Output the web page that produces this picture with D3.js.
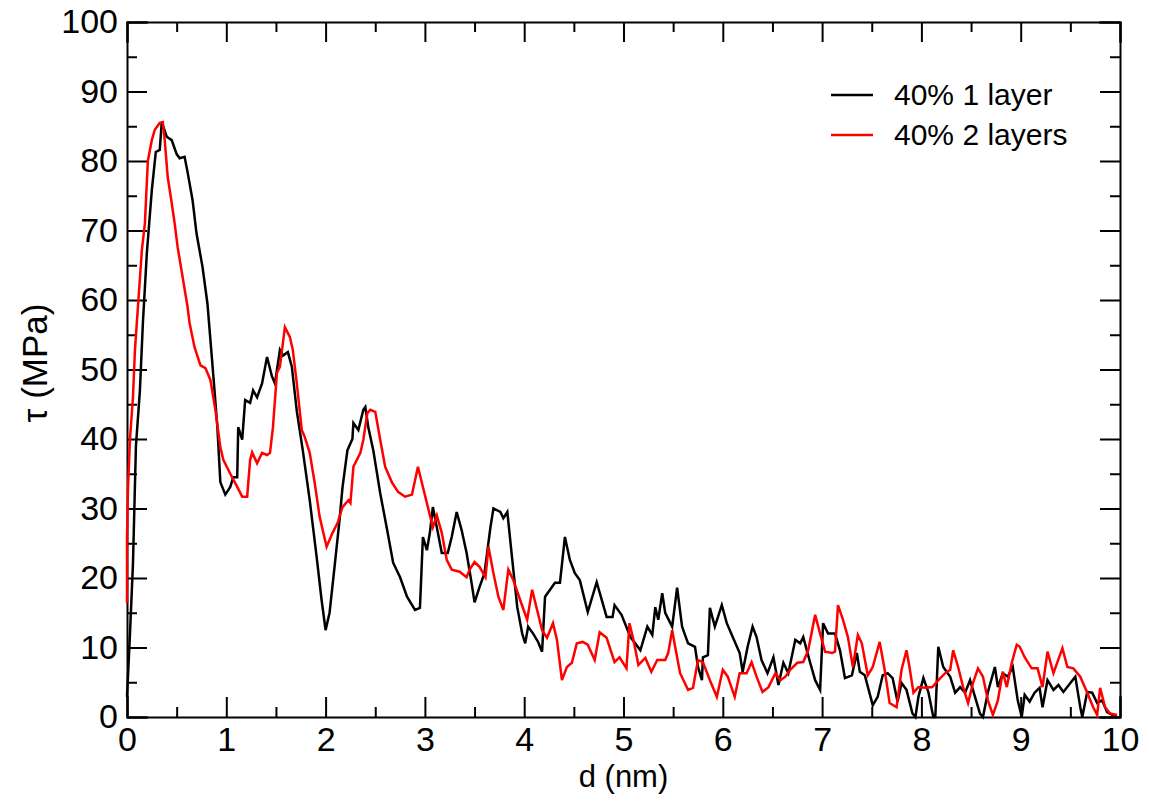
<!DOCTYPE html>
<html>
<head>
<meta charset="utf-8">
<script src="https://cdn.jsdelivr.net/npm/d3@7"></script>
<style>
  body { margin: 0; background: #fff; }
  svg text { font-family: "Liberation Sans", Arial, Helvetica, sans-serif; fill: #000; }
  .axis path, .axis line { stroke: #000; stroke-width: 2; }
</style>
</head>
<body>
<svg id="chart" width="1149" height="802"></svg>
<script>
// Series: d (nm) and tau (MPa)
var oneLayerD = [0.00,0.03,0.06,0.09,0.13,0.16,0.20,0.25,0.29,0.33,0.35,0.40,0.45,0.50,0.53,0.58,0.61,0.66,0.70,0.76,0.81,0.87,0.91,0.94,0.99,1.04,1.07,1.11,1.12,1.16,1.19,1.24,1.27,1.31,1.36,1.41,1.46,1.49,1.54,1.57,1.62,1.66,1.71,1.77,1.84,1.91,1.96,2.00,2.04,2.09,2.14,2.17,2.22,2.27,2.28,2.33,2.38,2.40,2.43,2.48,2.55,2.62,2.68,2.75,2.82,2.90,2.95,2.98,3.02,3.05,3.08,3.12,3.17,3.23,3.27,3.32,3.37,3.42,3.47,3.50,3.55,3.60,3.66,3.69,3.76,3.79,3.83,3.88,3.93,3.98,4.01,4.04,4.09,4.14,4.18,4.21,4.26,4.31,4.36,4.41,4.46,4.51,4.56,4.64,4.73,4.83,4.89,4.91,4.98,5.07,5.17,5.24,5.29,5.32,5.35,5.39,5.42,5.49,5.54,5.59,5.65,5.72,5.75,5.79,5.80,5.85,5.87,5.92,5.99,6.04,6.10,6.17,6.20,6.25,6.30,6.34,6.39,6.45,6.51,6.56,6.61,6.66,6.73,6.78,6.81,6.88,6.93,6.98,7.01,7.06,7.13,7.18,7.23,7.30,7.35,7.38,7.43,7.51,7.56,7.61,7.66,7.71,7.76,7.80,7.85,7.91,7.94,7.97,8.02,8.07,8.12,8.14,8.17,8.22,8.29,8.34,8.39,8.44,8.49,8.54,8.59,8.62,8.67,8.74,8.77,8.82,8.87,8.92,8.97,9.01,9.04,9.09,9.14,9.19,9.22,9.27,9.33,9.38,9.43,9.50,9.55,9.60,9.62,9.67,9.72,9.77,9.82,9.87,9.92,9.97];
var oneLayerTau = [2.9,12,22,39,47,56.7,66.8,75.8,81.3,81.6,85.6,83.5,83,81,80.4,80.6,78.4,74.4,69.6,64.8,59.5,49,41.7,33.8,32,33.1,34.5,34.5,41.7,39.9,45.6,45.2,47,46,48,51.8,49,48,52.8,52,52.5,50.4,44,38.4,31.2,23,16.8,12.5,15,21.6,28.3,33,38.4,40,42.3,41.3,44.2,44.6,41.7,38.4,32.2,26.9,22.2,20.1,17.3,15.4,15.7,25.9,24,26.5,30.2,27.3,23.6,23.6,25.9,29.5,26.9,23.6,19.3,16.5,18.7,20.7,27.3,30,29.5,28.6,29.5,22.6,15.8,12,10.6,13,12,10.8,9.4,17.3,18.3,19.3,19.3,25.9,22.6,20.7,19.7,15.1,19.4,14.4,14.4,16.1,14.7,11.5,9.6,13,11.8,15.8,14,17.8,15,13,18.6,13,10.6,10.1,7.2,5.3,8.6,8.9,15.7,13,16.1,13.5,11.5,9.2,6.5,10.1,13,11.5,8.2,6.3,8.6,4.6,7.8,6.3,11.1,10.6,11.5,7.8,5.3,3.9,13.5,12,12,9.6,5.6,6,9.2,6.5,6,1.7,2.9,6,6.3,5.6,2.2,4.9,3.9,0.5,0,2.9,5.6,3.6,0,0,10.1,7.2,5.8,3.5,4.3,3.5,5.3,2.9,0.5,0,3.6,7.2,4.3,6.3,5.8,7.2,2.4,0,3.2,2.2,3.5,4.2,1.4,5.3,3.9,4.6,3.6,4.9,5.8,1.4,0,3.6,3.5,2,2.4,0.7,0.3,0];

var twoLayersD = [0.00,0.00,0.01,0.03,0.06,0.08,0.11,0.15,0.18,0.21,0.25,0.28,0.33,0.36,0.38,0.41,0.45,0.48,0.51,0.56,0.61,0.63,0.68,0.74,0.79,0.84,0.89,0.94,0.97,1.04,1.11,1.16,1.21,1.24,1.26,1.31,1.36,1.41,1.44,1.47,1.51,1.54,1.59,1.64,1.67,1.71,1.76,1.79,1.84,1.89,1.94,2.01,2.07,2.12,2.17,2.23,2.25,2.28,2.35,2.38,2.42,2.45,2.50,2.55,2.60,2.67,2.73,2.80,2.87,2.93,2.98,3.03,3.08,3.12,3.17,3.22,3.27,3.35,3.42,3.45,3.50,3.55,3.61,3.64,3.69,3.74,3.79,3.84,3.89,3.96,4.03,4.08,4.13,4.18,4.23,4.29,4.33,4.38,4.43,4.48,4.53,4.59,4.64,4.71,4.76,4.83,4.91,4.96,5.03,5.06,5.10,5.15,5.22,5.28,5.34,5.42,5.45,5.49,5.52,5.57,5.65,5.70,5.75,5.80,5.87,5.94,6.00,6.05,6.12,6.17,6.24,6.29,6.34,6.40,6.46,6.53,6.58,6.63,6.68,6.75,6.81,6.86,6.93,6.98,7.03,7.10,7.13,7.16,7.21,7.26,7.31,7.36,7.40,7.46,7.51,7.58,7.63,7.68,7.75,7.80,7.85,7.88,7.92,7.97,8.04,8.11,8.19,8.24,8.29,8.32,8.37,8.42,8.47,8.52,8.57,8.62,8.67,8.72,8.77,8.82,8.86,8.91,8.96,8.99,9.04,9.11,9.17,9.22,9.27,9.33,9.42,9.47,9.53,9.60,9.67,9.73,9.77,9.80,9.85,9.90,9.97];
var twoLayersTau = [16.4,25.5,33,40,46,52.8,59,67.2,71,80,83,84.5,85.5,85.6,83,77.7,74,71,67.6,63.3,59,56.7,53.2,50.6,50.2,48.5,44.2,38.8,37,35,33.1,31.7,31.7,37,38.1,36.5,38,37.7,38,41.7,49.5,50.4,56.1,54.7,52.8,48,41.3,40.3,38,33.7,28.8,24.5,26.5,27.9,30.2,31.2,30.8,36,38,39.9,43.7,44.2,43.9,39.9,36,33.7,32.4,31.7,32,36,33.1,30.2,27.3,29,26.5,22.6,21.2,20.9,20.1,21.2,22.3,21.6,20.1,24.5,20.7,17.3,15.4,21.2,19.7,16.8,14,18.3,15.4,12.5,11.4,13.5,11.1,5.3,7.2,7.8,10.6,10.8,10.4,8.2,12.2,11.4,7.9,8.6,7,13.5,11.1,7.5,8.5,6.5,8.2,8.2,9.2,12.5,10.1,6.3,3.9,4.2,8.2,7.9,5.3,2.9,6.8,5.8,2.9,6.3,6.3,7.9,5.8,3.6,4.3,6.3,5.3,5.8,6.8,7.8,7.9,9.6,14.7,12,9.4,9.2,9.4,16.1,14,11.5,7.2,11.8,10.6,6,7.2,10.8,6.8,2,1.4,6.8,9.6,7.2,3.5,4.3,4.2,4.3,5.6,6.3,6.8,9.6,7.2,4.3,2,4.9,7,5.8,2.4,0.3,2.4,6.5,4.3,7.8,10.4,10.1,8.6,7,7,4.3,9.4,6.3,9.9,7.2,7,5.8,3.5,1.4,0.3,4.2,1.4,0.5,0.3];

var seriesNames = ["40% 1 layer", "40% 2 layers"];
var seriesColors = ["#000000", "#ff0000"];
var xMajorTicks = [0, 1, 2, 3, 4, 5, 6, 7, 8, 9, 10];
var yMajorTicks = [0, 10, 20, 30, 40, 50, 60, 70, 80, 90, 100];

(function() {
  var svg = d3.select("#chart"),
      plotLeft = 127, plotRight = 1120, plotTop = 22, plotBottom = 717;

  var x = d3.scaleLinear().domain([0, 10]).range([plotLeft, plotRight]);
  var y = d3.scaleLinear().domain([0, 100]).range([plotBottom, plotTop]);

  // minor ticks half way between majors
  var xMinor = d3.range(0.5, 10, 1);
  var yMinor = d3.range(5, 100, 10);

  function addAxis(axis, tx, ty, keepDomain) {
    var g = svg.append("g")
        .attr("class", "axis")
        .attr("transform", "translate(" + tx + "," + ty + ")")
        .call(axis);
    g.selectAll("text").style("font-size", "34px").attr("fill", "#000");
    if (!keepDomain) g.select(".domain").remove();
    return g;
  }

  // bottom + left with labels, ticks pointing inward
  addAxis(d3.axisBottom(x).tickValues(xMajorTicks).tickSize(-20).tickPadding(10).tickFormat(d3.format("d")), 0, plotBottom, true);
  addAxis(d3.axisLeft(y).tickValues(yMajorTicks).tickSize(-20).tickPadding(9).tickFormat(d3.format("d")), plotLeft, 0, true);
  addAxis(d3.axisBottom(x).tickValues(xMinor).tickSize(-10).tickFormat(""), 0, plotBottom);
  addAxis(d3.axisLeft(y).tickValues(yMinor).tickSize(-10).tickFormat(""), plotLeft, 0);

  // top + right, ticks only
  addAxis(d3.axisTop(x).tickValues(xMajorTicks).tickSize(-20).tickFormat(""), 0, plotTop, true);
  addAxis(d3.axisRight(y).tickValues(yMajorTicks).tickSize(-20).tickFormat(""), plotRight, 0, true);
  addAxis(d3.axisTop(x).tickValues(xMinor).tickSize(-10).tickFormat(""), 0, plotTop);
  addAxis(d3.axisRight(y).tickValues(yMinor).tickSize(-10).tickFormat(""), plotRight, 0);

  svg.selectAll(".axis .domain").attr("stroke-linecap", "square");

  var line = d3.line()
      .x(function(d) { return x(d[0]); })
      .y(function(d) { return y(d[1]); });

  var series = [
    d3.zip(oneLayerD, oneLayerTau),
    d3.zip(twoLayersD, twoLayersTau)
  ];

  // red drawn on top of black
  svg.append("g").selectAll("path")
      .data(series)
    .enter().append("path")
      .attr("d", line)
      .attr("fill", "none")
      .attr("stroke", function(d, i) { return seriesColors[i]; })
      .attr("stroke-width", 2.5);

  // Axis titles
  svg.append("text")
      .attr("x", (plotLeft + plotRight) / 2)
      .attr("y", 787)
      .attr("text-anchor", "middle")
      .style("font-size", "31px")
      .text("d (nm)");

  svg.append("text")
      .attr("transform", "translate(47,363) rotate(-90)")
      .attr("text-anchor", "middle")
      .style("font-size", "35px")
      .text("τ (MPa)");

  // Legend
  var legend = svg.append("g").attr("transform", "translate(831,95)");
  var item = legend.selectAll("g")
      .data(seriesNames)
    .enter().append("g")
      .attr("transform", function(d, i) { return "translate(0," + (i * 40) + ")"; });
  item.append("line")
      .attr("x1", 0).attr("x2", 42)
      .attr("stroke", function(d, i) { return seriesColors[i]; })
      .attr("stroke-width", 2.5);
  item.append("text")
      .attr("x", 63)
      .attr("y", 10)
      .style("font-size", "30px")
      .text(function(d) { return d; });
})();
</script>
</body>
</html>
